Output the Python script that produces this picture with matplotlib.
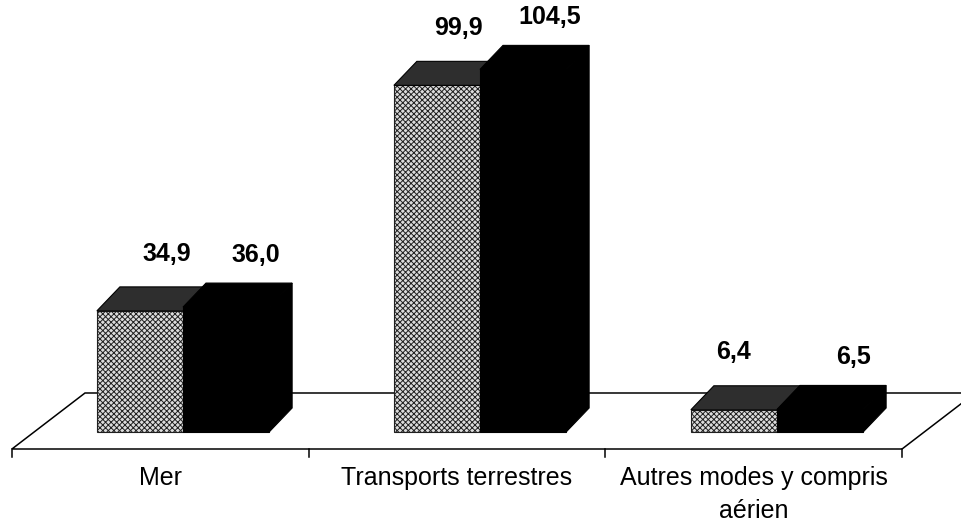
import matplotlib
matplotlib.use('Agg')
import matplotlib.pyplot as plt
from matplotlib.patches import Polygon
import numpy as np

# ---- data ----
categories = ['Mer', 'Transports terrestres', 'Autres modes y compris\naérien']
series_gray = [34.9, 99.9, 6.4]
series_black = [36.0, 104.5, 6.5]
labels_gray = ['34,9', '99,9', '6,4']
labels_black = ['36,0', '104,5', '6,5']

# ---- layout ----
plt.rcParams['font.family'] = ['Liberation Sans', 'DejaVu Sans']
plt.rcParams['hatch.linewidth'] = 0.7

fig = plt.figure(figsize=(9.61, 5.26), dpi=100)
ax = fig.add_axes([0, 0, 1, 1])
ax.set_xlim(-0.6162, 2.6195)
ax.set_ylim(-27.09, 124.5)
ax.axis('off')

W = 0.29          # bar width (category units)
DX, DY = 0.0774, 6.92   # 3-D depth offset

x = np.arange(len(categories))

# floor
floor_front, floor_back = -4.9, 11.24
fl_left, fl_right = -0.576, 2.421
sx = 0.246
floor = Polygon([(fl_left, floor_front), (fl_right, floor_front),
                 (fl_right + sx, floor_back), (fl_left + sx, floor_back)],
                closed=True, facecolor='white', edgecolor='black', lw=1.1, zorder=1)
ax.add_patch(floor)
tick_x = np.linspace(fl_left, fl_right, len(categories) + 1)
for tx in tick_x:
    ax.plot([tx, tx], [floor_front, floor_front - 2.3], color='black', lw=1.1, zorder=1)

# gray bars (front faces)
ax.bar(x - W / 2, series_gray, width=W, facecolor='#dcdcdc', edgecolor='#202020',
       hatch='xxxxxx', lw=0.8, zorder=2)
# black bars (front faces)
ax.bar(x + W / 2, series_black, width=W, facecolor='black', edgecolor='black',
       lw=0.8, zorder=3)

for xi, vg, vb in zip(x, series_gray, series_black):
    # gray top face
    ax.add_patch(Polygon([(xi - W, vg), (xi, vg), (xi + DX, vg + DY), (xi - W + DX, vg + DY)],
                         closed=True, facecolor='#2e2e2e', edgecolor='black', lw=0.8, zorder=2))
    # black top and side faces
    ax.add_patch(Polygon([(xi, vb), (xi + W, vb), (xi + W + DX, vb + DY), (xi + DX, vb + DY)],
                         closed=True, facecolor='black', edgecolor='black', lw=0.8, zorder=3))
    ax.add_patch(Polygon([(xi + W, 0), (xi + W, vb), (xi + W + DX, vb + DY), (xi + W + DX, DY)],
                         closed=True, facecolor='black', edgecolor='black', lw=0.8, zorder=3))

# value labels
gray_label_dx = [-0.054, -0.071, -0.148]
black_label_dx = [0.246, 0.236, 0.256]
for xi, vg, vb, lg, lb, dg, db in zip(x, series_gray, series_black, labels_gray, labels_black,
                                      gray_label_dx, black_label_dx):
    ax.text(xi + dg, vg + 14.5, lg, ha='center', va='baseline', fontsize=18,
            fontweight='bold', zorder=5)
    ax.text(xi + db, vb + 13.0, lb, ha='center', va='baseline', fontsize=18,
            fontweight='bold', zorder=5)

# category labels
for xi, cat in zip((tick_x[:-1] + tick_x[1:]) / 2, categories):
    ax.text(xi, -9.9, cat, ha='center', va='top', fontsize=18, linespacing=1.45, zorder=5)

fig.savefig('out.png', dpi=100)
